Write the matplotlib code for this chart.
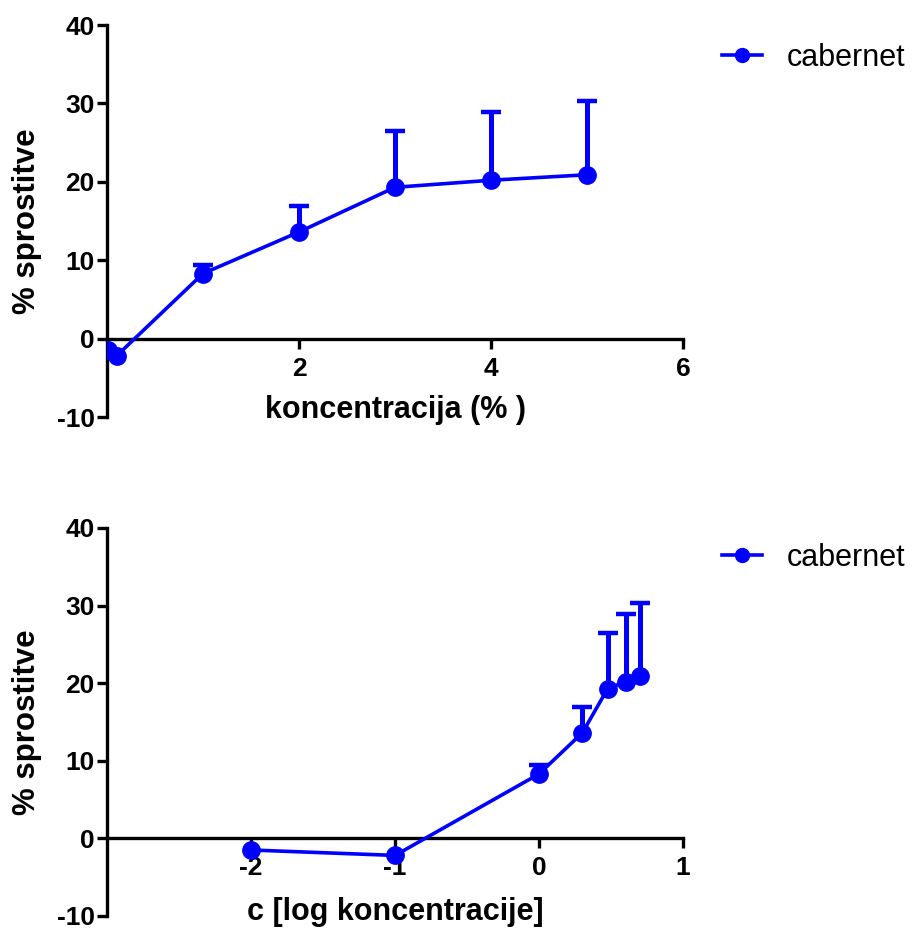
import matplotlib
matplotlib.use("Agg")
import matplotlib.pyplot as plt
import numpy as np

plt.rcParams['font.family'] = ['Liberation Sans', 'DejaVu Sans']
plt.rcParams['axes.unicode_minus'] = False

# data
konc = np.array([0.01, 0.1, 1, 2, 3, 4, 5])
sprostitev = np.array([-1.5, -2.2, 8.3, 13.6, 19.3, 20.2, 20.9])
sem = np.array([0.0, 0.0, 1.1, 3.3, 7.2, 8.7, 9.4])
log_konc = np.log10(konc)

blue = "#0000ff"


def style_axes(ax, xlim, xticks):
    ax.set_xlim(*xlim)
    ax.set_ylim(-10, 40)
    ax.set_xticks(xticks)
    ax.set_yticks([-10, 0, 10, 20, 30, 40])
    ax.spines['top'].set_visible(False)
    ax.spines['right'].set_visible(False)
    ax.spines['bottom'].set_position(('data', 0))
    for s in ['left', 'bottom']:
        ax.spines[s].set_linewidth(2.4)
    ax.tick_params(direction='out', length=7, width=2.4, labelsize=19)
    ax.tick_params(axis='x', pad=6)
    ax.tick_params(axis='y', pad=2)
    for lab in ax.get_xticklabels() + ax.get_yticklabels():
        lab.set_fontweight('bold')
    ax.set_ylabel("% sprostitve", fontsize=22.5, fontweight='bold')
    ax.yaxis.set_label_coords(-0.112, 0.5)


def draw(ax, x):
    m = sem > 0
    top = sprostitev + sem
    ax.vlines(x[m], sprostitev[m], top[m], color=blue, lw=3.6, zorder=2)
    ax.plot(x[m], top[m], ls='none', marker='_', ms=15, mew=3.2,
            color=blue, zorder=2)
    ax.plot(x, sprostitev, color=blue, lw=2.6, marker='o', ms=12.5,
            label="cabernet", zorder=3)


fig = plt.figure(figsize=(9.13, 9.3), dpi=100)
ax1 = fig.add_axes([0.1172, 0.5516, 0.6309, 0.4215])
ax2 = fig.add_axes([0.1172, 0.0151, 0.6309, 0.4172])

draw(ax1, konc)
style_axes(ax1, (0, 6), [2, 4, 6])
ax1.text(0.5, -0.003, "koncentracija (% )", transform=ax1.transAxes,
         ha='center', va='baseline', fontsize=22, fontweight='bold')

draw(ax2, log_konc)
style_axes(ax2, (-3, 1), [-2, -1, 0, 1])
ax2.text(0.5, -0.01, "c [log koncentracije]", transform=ax2.transAxes,
         ha='center', va='baseline', fontsize=22, fontweight='bold')

for ax, ly in ((ax1, 0.9376), (ax2, 0.400)):
    ax.legend(loc='center left', bbox_to_anchor=(0.791, ly),
              bbox_transform=fig.transFigure, frameon=False, fontsize=22,
              handlelength=1.3, handletextpad=0.82, markerscale=0.8,
              borderpad=0, borderaxespad=0)

fig.savefig("out.png", dpi=100)
